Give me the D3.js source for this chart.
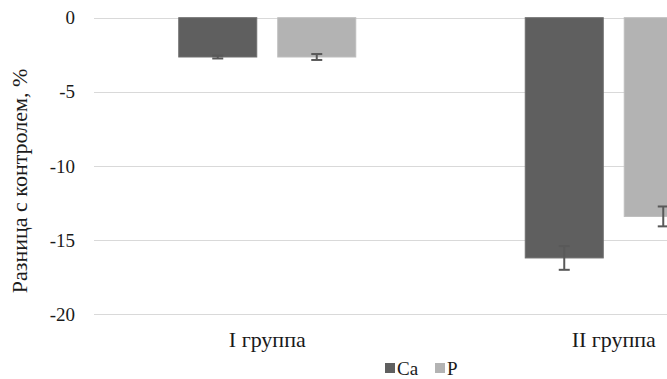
<!DOCTYPE html>
<html>
<head>
<meta charset="utf-8">
<script src="https://cdn.jsdelivr.net/npm/d3@7"></script>
<style>
  html, body { margin: 0; padding: 0; background: #fff; overflow: hidden; }
  svg { display: block; }
</style>
</head>
<body>
<svg id="chart" width="667" height="379"></svg>
<script>
// Groups and series
const groups = ["I группа", "II группа"];
const series = ["Ca", "P"];
const caValues = [-2.65, -16.2];
const pValues = [-2.65, -13.4];
const caErrors = [0.1, 0.8];
const pErrors = [0.2, 0.67];
const yTicks = [0, -5, -10, -15, -20];
const yTitle = "Разница с контролем, %";

const colors = { Ca: "#5f5f5f", P: "#b3b3b3" };
const valuesBySeries = { Ca: caValues, P: pValues };
const errorsBySeries = { Ca: caErrors, P: pErrors };

const TEXT_COLOR = "#1a1a1a";

// Serif text helper
function serif(sel, size) {
  return sel.style("font", `${size}px "Times New Roman"`).attr("fill", TEXT_COLOR);
}

const svg = d3.select("#chart");

// Plot area (the right part of the second group runs past the frame)
const plot = { left: 94, right: 787, top: 17.7, bottom: 314.3 };

const y = d3.scaleLinear().domain([-20, 0]).range([plot.bottom, plot.top]);
const x0 = d3.scaleBand().domain(groups).range([plot.left, plot.right]).padding(0);
const x1 = d3.scaleBand().domain(series).range([0, x0.bandwidth()])
  .paddingInner(0.2121).paddingOuter(0.856);

// Horizontal gridlines
svg.append("g")
  .selectAll("line")
  .data(yTicks)
  .join("line")
  .attr("x1", plot.left)
  .attr("x2", plot.right)
  .attr("y1", d => Math.round(y(d)) + 0.5)
  .attr("y2", d => Math.round(y(d)) + 0.5)
  .attr("stroke", "#d9d9d9")
  .attr("stroke-width", 1.2);

// Y tick labels (plain hyphen for negatives)
const yAxis = d3.axisLeft(y).tickValues(yTicks).tickSize(0).tickPadding(0)
  .tickFormat(d => String(d));
const yAxisG = svg.append("g")
  .attr("transform", `translate(${plot.left - 19},0)`)
  .call(yAxis);
yAxisG.select(".domain").remove();
yAxisG.attr("font-family", null).attr("font-size", null);
serif(yAxisG.selectAll("text"), 19);

// Y axis title
serif(svg.append("text"), 22)
  .attr("transform", "translate(27,181) rotate(-90)")
  .attr("text-anchor", "middle")
  .text(yTitle);

// Bars
const barData = [];
groups.forEach((g, i) => {
  series.forEach(s => {
    barData.push({ group: g, series: s, value: valuesBySeries[s][i], err: errorsBySeries[s][i] });
  });
});

svg.append("g")
  .selectAll("rect")
  .data(barData)
  .join("rect")
  .attr("x", d => x0(d.group) + x1(d.series))
  .attr("y", y(0))
  .attr("width", x1.bandwidth())
  .attr("height", d => y(d.value) - y(0))
  .attr("fill", d => colors[d.series])
  .attr("stroke", d => d.series === "Ca" ? "#6e6e6e" : "#bdbdbd")
  .attr("stroke-width", 1);

// Error bars
const capHalf = 5.5;
const eb = svg.append("g").attr("stroke", "#595959").attr("stroke-width", 2);
barData.forEach(d => {
  const cx = x0(d.group) + x1(d.series) + x1.bandwidth() / 2;
  const yTop = y(d.value + d.err);
  const yBot = y(d.value - d.err);
  eb.append("line").attr("x1", cx).attr("x2", cx).attr("y1", yTop).attr("y2", yBot);
  eb.append("line").attr("x1", cx - capHalf).attr("x2", cx + capHalf).attr("y1", yTop).attr("y2", yTop);
  eb.append("line").attr("x1", cx - capHalf).attr("x2", cx + capHalf).attr("y1", yBot).attr("y2", yBot);
});

// Category labels
serif(svg.append("g")
  .selectAll("text")
  .data(groups)
  .join("text"), 22)
  .attr("x", d => x0(d) + x0.bandwidth() / 2)
  .attr("y", 347)
  .attr("text-anchor", "middle")
  .text(d => d);

// Legend
const legendX = d3.scalePoint().domain(series).range([385, 435]);
const items = svg.append("g")
  .selectAll("g")
  .data(series)
  .join("g")
  .attr("transform", d => `translate(${legendX(d)},0)`);
items.append("rect")
  .attr("x", 0)
  .attr("y", 363)
  .attr("width", 10)
  .attr("height", 10)
  .attr("fill", d => colors[d]);
serif(items.append("text"), 19)
  .attr("x", 12)
  .attr("y", 375)
  .text(d => d);
</script>
</body>
</html>
